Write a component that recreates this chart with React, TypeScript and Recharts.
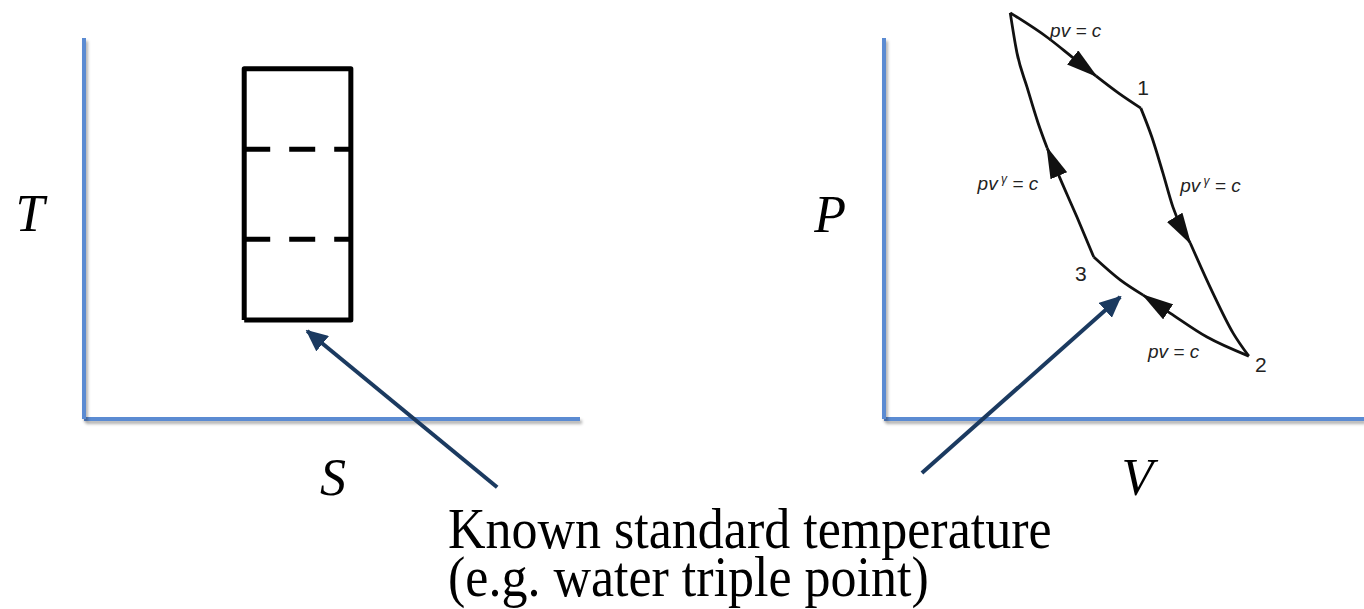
import React from 'react';
import { ComposedChart, Line, Scatter, XAxis, YAxis } from 'recharts';

type Pt = { x: number; y: number; arrow?: boolean };
type Tag = { x: number; y: number; text: string; sup?: string; rest?: string };

// ---------- T-S diagram ----------
const tsAxisS: Pt[] = [{ x: 0, y: 0 }, { x: 10, y: 0 }];
const tsAxisT: Pt[] = [{ x: 0, y: 0 }, { x: 0, y: 10 }];
const cycleRect: Pt[] = [
  { x: 3.23, y: 2.6 },
  { x: 3.23, y: 9.19 },
  { x: 5.38, y: 9.19 },
  { x: 5.38, y: 2.6 },
  { x: 3.23, y: 2.6 },
];
const rectEdgesS = [3.23, 5.38];
const dashedLevelsT = [7.08, 4.72];
const tsPointer: Pt[] = [{ x: 8.33, y: -1.79 }, { x: 4.5, y: 2.31 }];
const tsAxisLabels: Tag[] = [
  { x: -1.09, y: 4.93, text: 'T' },
  { x: 5.02, y: -1.99, text: 'S' },
];

// ---------- P-V diagram ----------
const pvAxisV: Pt[] = [{ x: 0, y: 0 }, { x: 10, y: 0 }];
const pvAxisP: Pt[] = [{ x: 0, y: 0 }, { x: 0, y: 10 }];
const hotIsotherm: Pt[] = [
  { x: 2.63, y: 10.66 },
  { x: 3.42, y: 10.0 },
  { x: 3.92, y: 9.5 },
  { x: 4.42, y: 9.0, arrow: true },
  { x: 4.88, y: 8.56 },
  { x: 5.35, y: 8.16 },
];
const expansionAdiabat: Pt[] = [
  { x: 5.35, y: 8.16 },
  { x: 5.58, y: 7.4 },
  { x: 5.81, y: 6.46 },
  { x: 6.02, y: 5.56 },
  { x: 6.38, y: 4.62, arrow: true },
  { x: 6.85, y: 3.31 },
  { x: 7.27, y: 2.26 },
  { x: 7.6, y: 1.65 },
];
const coldIsotherm: Pt[] = [
  { x: 7.6, y: 1.65 },
  { x: 6.73, y: 2.15 },
  { x: 5.96, y: 2.78 },
  { x: 5.4, y: 3.25, arrow: true },
  { x: 4.92, y: 3.65 },
  { x: 4.37, y: 4.25 },
];
const compressionAdiabat: Pt[] = [
  { x: 4.37, y: 4.25 },
  { x: 4.02, y: 5.3 },
  { x: 3.71, y: 6.19 },
  { x: 3.4, y: 7.11, arrow: true },
  { x: 3.21, y: 7.77 },
  { x: 2.98, y: 8.71 },
  { x: 2.77, y: 9.61 },
  { x: 2.63, y: 10.66 },
];
const pvPointer: Pt[] = [{ x: 0.79, y: -1.42 }, { x: 4.92, y: 3.2 }];
const pvAxisLabels: Tag[] = [
  { x: -1.12, y: 4.91, text: 'P' },
  { x: 5.28, y: -1.99, text: 'V' },
];
const stateLabels: Tag[] = [
  { x: 5.4, y: 8.5, text: '1' },
  { x: 7.85, y: 1.24, text: '2' },
  { x: 4.1, y: 3.62, text: '3' },
];
const processLabels: Tag[] = [
  { x: 3.46, y: 10.03, text: 'pv = c' },
  { x: 6.17, y: 5.96, text: 'pv', sup: 'γ', rest: ' = c' },
  { x: 1.95, y: 6.01, text: 'pv', sup: 'γ', rest: ' = c' },
  { x: 5.5, y: 1.6, text: 'pv = c' },
];

const caption = ['Known standard temperature', '(e.g. water triple point)'];

// layout
const H = 609;
const ORIGIN_Y = 419;
const PX_Y = 38.1;
const yDomain: [number, number] = [(ORIGIN_Y - H) / PX_Y, ORIGIN_Y / PX_Y];

const LEFT_W = 700;
const LEFT_OX = 84;
const LEFT_PX = 49.6;
const RIGHT_W = 664;
const RIGHT_OX = 184;
const RIGHT_PX = 48;

const AXIS_BLUE = '#5B8BD2';
const NAVY = '#1B3A60';
const INK = '#111';
const axisStyle = { filter: 'drop-shadow(2px 3px 1.5px rgba(0,0,0,0.3))' };

const split = (pts: Pt[]) => {
  const i = pts.findIndex(p => p.arrow);
  return [pts.slice(0, i + 1), pts.slice(i)];
};

const axisLetter = (props: any) => (
  <text
    x={props.cx}
    y={props.cy}
    textAnchor="middle"
    fontFamily='"Liberation Serif", "Times New Roman", serif'
    fontStyle="italic"
    fontSize={52}
    fill="#000"
  >
    {props.payload.text}
  </text>
);

const stateTag = (props: any) => (
  <text x={props.cx} y={props.cy} textAnchor="middle" fontFamily='"Liberation Sans", Arial, sans-serif' fontSize={21} fill="#222">
    {props.payload.text}
  </text>
);

const processTag = (props: any) => {
  const d = props.payload as Tag;
  return (
    <text x={props.cx} y={props.cy} fontFamily='"Liberation Sans", Arial, sans-serif' fontStyle="italic" fontSize={19} fill="#222">
      {d.text}
      {d.sup && (
        <tspan dy={-7} fontSize={12}>
          {' ' + d.sup}
        </tspan>
      )}
      {d.rest && <tspan dy={7}>{d.rest}</tspan>}
    </text>
  );
};

const Defs = ({ p }: { p: string }) => (
  <defs>
    <marker id={`${p}-cyc`} viewBox="0 0 32 18" refX={30} refY={9} markerWidth={32} markerHeight={18} markerUnits="userSpaceOnUse" orient="auto">
      <path d="M0,0 L32,9 L0,18 Z" fill={INK} />
    </marker>
    <marker id={`${p}-ptr`} viewBox="0 0 22 20" refX={20} refY={10} markerWidth={22} markerHeight={20} markerUnits="userSpaceOnUse" orient="auto">
      <path d="M0,0 L22,10 L0,20 Z" fill={NAVY} />
    </marker>
  </defs>
);

const lineBase = { type: 'linear' as const, dataKey: 'y', dot: false, activeDot: false, isAnimationActive: false, legendType: 'none' as const };

export default function App() {
  const [hotA, hotB] = split(hotIsotherm);
  const [expA, expB] = split(expansionAdiabat);
  const [coldA, coldB] = split(coldIsotherm);
  const [compA, compB] = split(compressionAdiabat);

  return (
    <div style={{ position: 'absolute', left: 0, top: 0, width: 1364, height: H, background: '#fff', overflow: 'hidden' }}>
      <div style={{ position: 'absolute', left: 0, top: 0 }}>
        <ComposedChart width={LEFT_W} height={H} margin={{ top: 0, right: 0, bottom: 0, left: 0 }}>
          <Defs p="ts" />
          <XAxis type="number" dataKey="x" hide allowDataOverflow domain={[-LEFT_OX / LEFT_PX, (LEFT_W - LEFT_OX) / LEFT_PX]} />
          <YAxis type="number" dataKey="y" hide allowDataOverflow domain={yDomain} />
          <Line {...lineBase} data={tsAxisS} stroke={AXIS_BLUE} strokeWidth={4} style={axisStyle} />
          <Line {...lineBase} data={tsAxisT} stroke={AXIS_BLUE} strokeWidth={4} style={axisStyle} />
          <Line {...lineBase} data={cycleRect} stroke="#000" strokeWidth={5} strokeLinejoin="round" />
          {dashedLevelsT.map(t => (
            <Line
              key={t}
              {...lineBase}
              data={rectEdgesS.map(s => ({ x: s, y: t }))}
              stroke="#000"
              strokeWidth={5}
              strokeDasharray="26 19"
            />
          ))}
          <Line {...lineBase} data={tsPointer} stroke={NAVY} strokeWidth={4} markerEnd="url(#ts-ptr)" />
          <Scatter data={tsAxisLabels} shape={axisLetter} isAnimationActive={false} />
        </ComposedChart>
      </div>
      <div style={{ position: 'absolute', left: LEFT_W, top: 0 }}>
        <ComposedChart width={RIGHT_W} height={H} margin={{ top: 0, right: 0, bottom: 0, left: 0 }}>
          <Defs p="pv" />
          <XAxis type="number" dataKey="x" hide allowDataOverflow domain={[-RIGHT_OX / RIGHT_PX, (RIGHT_W - RIGHT_OX) / RIGHT_PX]} />
          <YAxis type="number" dataKey="y" hide allowDataOverflow domain={yDomain} />
          <Line {...lineBase} data={pvAxisV} stroke={AXIS_BLUE} strokeWidth={4} style={axisStyle} />
          <Line {...lineBase} data={pvAxisP} stroke={AXIS_BLUE} strokeWidth={4} style={axisStyle} />
          {[hotA, expA, coldA, compA].map((d, i) => (
            <Line key={`a${i}`} {...lineBase} type="monotoneX" data={d} stroke={INK} strokeWidth={2.8} markerEnd="url(#pv-cyc)" />
          ))}
          {[hotB, expB, coldB, compB].map((d, i) => (
            <Line key={`b${i}`} {...lineBase} type="monotoneX" data={d} stroke={INK} strokeWidth={2.8} />
          ))}
          <Line {...lineBase} data={pvPointer} stroke={NAVY} strokeWidth={4} markerEnd="url(#pv-ptr)" />
          <Scatter data={pvAxisLabels} shape={axisLetter} isAnimationActive={false} />
          <Scatter data={stateLabels} shape={stateTag} isAnimationActive={false} />
          <Scatter data={processLabels} shape={processTag} isAnimationActive={false} />
        </ComposedChart>
      </div>
      <div
        style={{
          position: 'absolute',
          left: 448,
          top: 505.5,
          fontFamily: '"Liberation Serif", "Times New Roman", serif',
          fontSize: 52,
          lineHeight: '43.5px',
          color: '#000',
          whiteSpace: 'pre-line',
          transform: 'scale(1, 1.08)',
          transformOrigin: '0 0',
        }}
      >
        {caption.join('\n')}
      </div>
    </div>
  );
}
